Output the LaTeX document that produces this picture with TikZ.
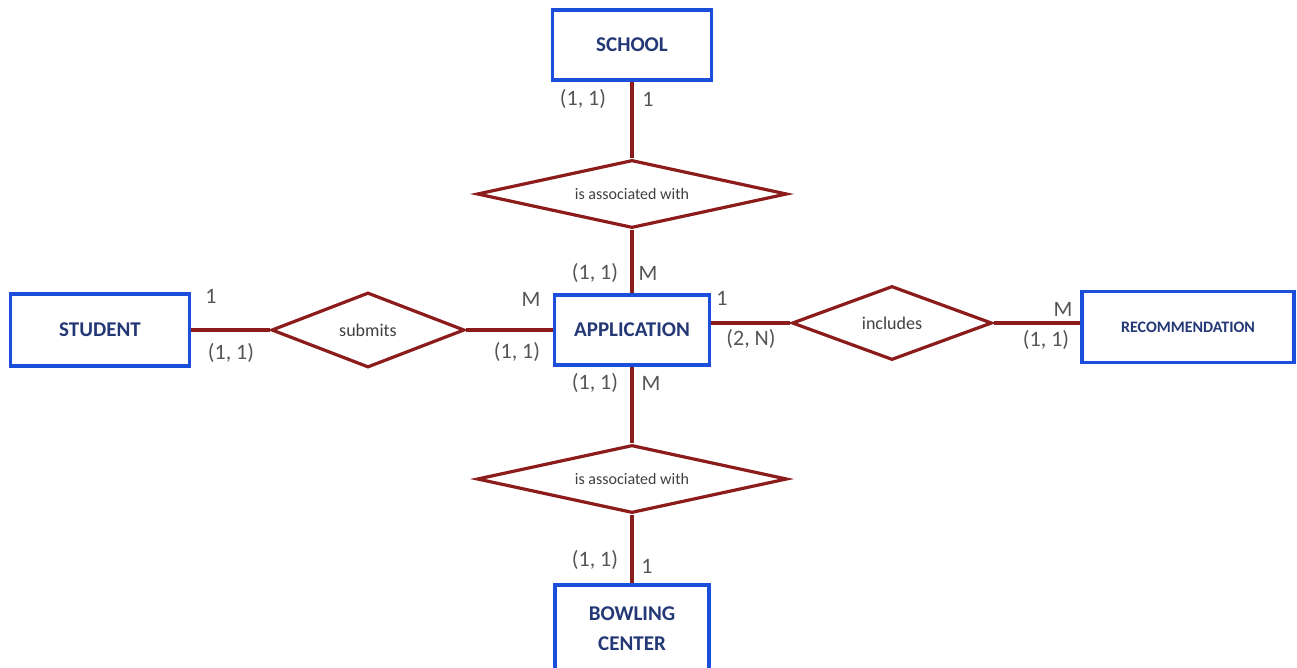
\documentclass[tikz,border=0pt]{standalone}
\usepackage{fontspec}
\setmainfont{Carlito}
\usepackage{tikz}
\usetikzlibrary{positioning,shapes.geometric}

\definecolor{entblue}{RGB}{28,78,220}
\definecolor{enttext}{RGB}{36,56,118}
\definecolor{relred}{RGB}{140,28,28}
\definecolor{cardgray}{RGB}{85,85,85}

\begin{document}
\begin{tikzpicture}[
  x=1pt, y=-1pt,
  entity/.style={draw=entblue, line width=3.2pt, fill=white, align=center, inner sep=0pt, text=enttext, font=\fontsize{21}{30}\selectfont\bfseries},
  rel/.style={diamond, draw=relred, line width=3.2pt, fill=white, inner sep=0pt, text=black!75, font=\fontsize{18}{22}\selectfont},
  link/.style={draw=relred, line width=3.2pt},
  card/.style={inner sep=0pt, text=cardgray, font=\fontsize{22}{24}\selectfont},
]
\useasboundingbox (0,0) rectangle (1297,667);

% Entities
\node[entity, minimum width=159pt, minimum height=70pt] (school) at (632,45) {SCHOOL};
\node[entity, minimum width=179pt, minimum height=72pt] (student) at (100,330) {STUDENT};
\node[entity, minimum width=155pt, minimum height=70pt] (app) at (632,330) {APPLICATION};
\node[entity, minimum width=212pt, minimum height=71pt, font=\fontsize{16}{20}\selectfont\bfseries] (rec) at (1188,327) {RECOMMENDATION};
\node[entity, minimum width=154pt, minimum height=88pt] (bowling) at (632,629) {BOWLING\\CENTER};

% Relationships
\node[rel, aspect=4.6, minimum width=310pt, minimum height=68pt, font=\fontsize{16}{20}\selectfont] (assocTop) at (632,194) {is associated with};
\node[rel, aspect=2.6, minimum width=193pt, minimum height=75pt] (submits) at (368,330) {submits};
\node[rel, aspect=2.7, minimum width=200pt, minimum height=74pt] (includes) at (892,323) {includes};
\node[rel, aspect=4.6, minimum width=310pt, minimum height=68pt, font=\fontsize{16}{20}\selectfont] (assocBot) at (632,479) {is associated with};

% Connectors
\draw[link] (school) -- (assocTop);
\draw[link] (assocTop) -- (app);
\draw[link] (student) -- (submits);
\draw[link] (submits) -- (app);
\draw[link] (includes.west -| app.east) -- (includes.west);
\draw[link] (includes.east) -- (includes.east -| rec.west);
\draw[link] (app) -- (assocBot);
\draw[link] (assocBot) -- (bowling);

% Cardinalities
\node[card] (cSchoolA) at (583,99) {(1, 1)};
\node[card] (cSchoolB) at (648,99) {1};
\node[card] (cAppTopA) at (595,273) {(1, 1)};
\node[card] (cAppTopB) at (648,273) {M};
\node[card] (cStudentA) at (211,296) {1};
\node[card] (cStudentB) at (231,353) {(1, 1)};
\node[card] (cAppLeftA) at (531,299) {M};
\node[card] (cAppLeftB) at (517,352) {(1, 1)};
\node[card] (cAppRightA) at (722,298) {1};
\node[card] (cAppRightB) at (751,339) {(2, N)};
\node[card] (cRecA) at (1063,309) {M};
\node[card] (cRecB) at (1046,340) {(1, 1)};
\node[card] (cAppBotA) at (595,383) {(1, 1)};
\node[card] (cAppBotB) at (651,383) {M};
\node[card] (cBowlingA) at (595,560) {(1, 1)};
\node[card] (cBowlingB) at (647,566) {1};

\end{tikzpicture}
\end{document}
